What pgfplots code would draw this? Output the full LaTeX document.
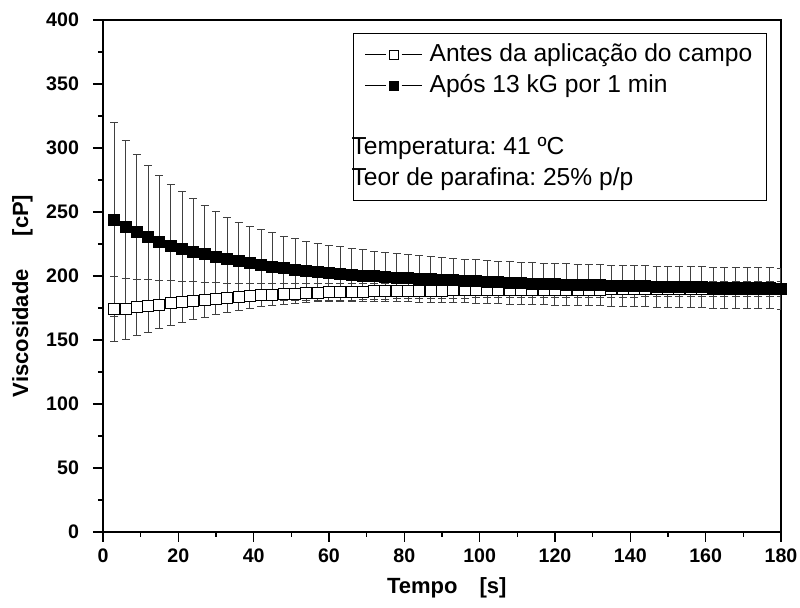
\documentclass[border=0pt]{standalone}
\usepackage{pgfplots}
\pgfplotsset{compat=1.18}
\usepackage{pgfplotstable}
\usepackage{fontspec}
\setmainfont{Liberation Sans}
\frenchspacing

\pgfplotstableread{
t y e
3 174.0 25.5
6 174.3 24.0
9 175.5 22.0
12 176.6 20.5
15 177.6 19.0
18 178.8 17.4
21 179.8 16.0
24 180.6 14.8
27 181.4 13.5
30 182.3 12.3
33 183.0 11.3
36 183.7 10.4
39 184.3 9.6
42 184.9 9.0
45 185.4 8.4
48 185.8 8.0
51 186.2 7.6
54 186.5 7.3
57 186.8 7.0
60 187.1 6.8
63 187.3 6.6
66 187.5 6.5
69 187.7 6.4
72 187.9 6.3
75 188.0 6.2
78 188.2 6.1
81 188.3 6.1
84 188.4 6.0
87 188.5 6.0
90 188.6 6.0
93 188.7 6.0
96 188.8 6.0
99 188.9 6.0
102 189.0 6.0
105 189.0 6.0
108 189.1 6.0
111 189.1 6.0
114 189.2 6.0
117 189.2 6.0
120 189.3 6.0
123 189.3 6.0
126 189.4 6.0
129 189.4 6.0
132 189.4 6.0
135 189.5 6.0
138 189.5 6.0
141 189.5 6.0
144 189.6 6.0
147 189.6 6.0
150 189.6 6.0
153 189.7 6.0
156 189.7 6.0
159 189.7 6.0
162 189.7 6.0
165 189.8 6.0
168 189.8 6.0
171 189.8 6.0
174 189.8 6.0
177 189.9 6.0
180 189.9 6.0
}\antes

\pgfplotstableread{
t y e
3 244.0 76.0
6 238.5 67.0
9 234.0 61.0
12 230.2 56.0
15 226.8 52.0
18 223.5 48.0
21 221.0 45.0
24 219.0 41.5
27 217.0 38.0
30 215.0 35.0
33 213.3 32.5
36 211.6 30.5
39 210.0 29.0
42 208.6 27.8
45 207.3 26.4
48 206.0 25.2
51 205.0 24.2
54 204.0 23.3
57 203.1 22.5
60 202.3 21.8
63 201.6 21.2
66 200.9 20.6
69 200.3 20.1
72 199.7 19.6
75 199.1 19.2
78 198.6 18.8
81 198.1 18.4
84 197.7 18.1
87 197.3 17.8
90 196.9 17.5
93 196.5 17.3
96 196.1 17.1
99 195.7 16.9
102 195.3 16.8
105 195.0 16.7
108 194.7 16.6
111 194.4 16.5
114 194.1 16.4
117 193.8 16.3
120 193.5 16.3
123 193.3 16.2
126 193.1 16.2
129 192.9 16.1
132 192.7 16.1
135 192.5 16.0
138 192.3 16.0
141 192.1 16.0
144 191.9 16.0
147 191.7 16.0
150 191.5 16.0
153 191.4 16.0
156 191.2 16.0
159 191.1 16.0
162 190.9 16.0
165 190.8 16.0
168 190.7 16.0
171 190.5 16.0
174 190.4 16.0
177 190.3 16.0
180 190.2 16.0
}\apos

\begin{document}
\begin{tikzpicture}
\begin{axis}[
  name=main,
  scale only axis, width=339pt, height=256pt,
  xmin=0, xmax=180, ymin=0, ymax=400,
  xtick={0,20,...,180}, ytick={0,50,...,400},
  minor x tick num=1, minor y tick num=1,
  tick align=outside, tick pos=left,
  major tick length=5pt, minor tick length=2.5pt,
  tick style={line width=0.8pt, black},
  axis line style={line width=1pt},
  scaled ticks=false,
  tick label style={font=\fontsize{9.8}{11}\selectfont\bfseries},
  y tick label style={xshift=-3.5pt},
  /pgf/number format/assume math mode=true,
  xlabel={Tempo\hspace{1em}[s]},
  ylabel={Viscosidade\hspace{1.5em}[cP]},
  label style={font=\fontsize{11}{13}\selectfont\bfseries},
  x label style={at={(axis description cs:0.507,-0.109)}, anchor=center},
  y label style={at={(axis description cs:-0.119,0.461)}, anchor=center},
  legend cell align=left,
  legend style={at={(0.979,0.975)}, anchor=north east, draw=black, thin,
    font=\fontsize{12.3}{14}\selectfont, inner xsep=5.5pt, inner ysep=3pt,
    row sep=0pt,
    nodes={inner sep=1.5pt, text height=9.5pt, text depth=3pt}},
  legend image code/.code={%
    \draw[black, line width=0.5pt] (0cm,0cm) -- (0.36cm,0cm) (0.64cm,0cm) -- (1cm,0cm);
    \path[#1, only marks, mark size=2.3pt] plot coordinates {(0.5cm,0cm)};
    \path (1cm+2pt,0cm);},
]
\addplot[black, line width=0.5pt, mark=square*, mark size=2.75pt,
  mark options={fill=white, solid},
  error bars/.cd, y dir=both, y explicit,
  error bar style={line width=0.5pt, black!75},
  error mark options={rotate=90, mark size=2pt, line width=0.5pt, black!75}]
  table[x=t, y=y, y error=e]{\antes};
\addlegendentry{Antes da aplicação do campo}
\addplot[black, line width=0.5pt, mark=square*, mark size=2.75pt,
  mark options={fill=black, solid},
  error bars/.cd, y dir=both, y explicit,
  error bar style={line width=0.5pt, black!75},
  error mark options={rotate=90, mark size=2pt, line width=0.5pt, black!75}]
  table[x=t, y=y, y error=e]{\apos};
\addlegendentry{Após 13 kG por 1 min}
\addlegendimage{empty legend}
\addlegendentry{}
\addlegendimage{empty legend}
\addlegendentry{\hspace*{-39pt}Temperatura: 41 ºC}
\addlegendimage{empty legend}
\addlegendentry{\hspace*{-39pt}Teor de parafina: 25\% p/p}
\end{axis}
\pgfresetboundingbox
\path[use as bounding box] ([xshift=-51.5pt,yshift=-38pt]main.south west) rectangle ([xshift=9.5pt,yshift=10pt]main.north east);
\end{tikzpicture}
\end{document}
